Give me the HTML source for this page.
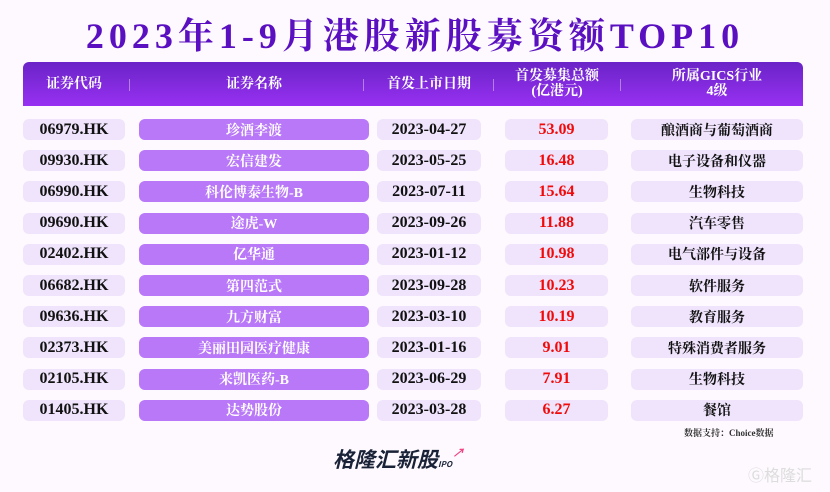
<!DOCTYPE html>
<html><head><meta charset="utf-8"><style>
body{margin:0;width:830px;height:492px;background:#fdf9fe;position:relative;overflow:hidden;font-family:"Liberation Serif","Noto Serif CJK SC",serif;}
.abs{position:absolute;}
#title{left:0;width:830px;top:13px;text-align:center;font-size:36px;font-weight:bold;color:#5a10c0;letter-spacing:5px;line-height:46px;}
#hdr{left:23px;top:62px;width:780px;height:44px;background:linear-gradient(#6a24c6,#9830f2);border-radius:6px 6px 0 0;}
.h{position:absolute;top:0;height:44px;display:flex;align-items:center;justify-content:center;text-align:center;color:#fff;font-weight:bold;font-size:14px;line-height:15px;}
.sep{position:absolute;top:17px;width:1px;height:12px;background:rgba(255,255,255,.4);}
.pill{position:absolute;height:21px;border-radius:6px;display:flex;align-items:center;justify-content:center;font-weight:bold;font-size:16px;color:#111;background:#efe4fc;}
.name{background:#b978f8;color:#fff;font-size:14px;}
.amt{color:#f00a0a;}
.ind{font-size:14px;}
</style></head><body>
<div id="title" class="abs">2023年1-9月港股新股募资额TOP10</div>
<div id="hdr" class="abs">
<div class="h" style="left:0;width:102px">证券代码</div>
<div class="sep" style="left:106px"></div>
<div class="h" style="left:116px;width:230px">证券名称</div>
<div class="sep" style="left:340px"></div>
<div class="h" style="left:354px;width:104px">首发上市日期</div>
<div class="sep" style="left:470px"></div>
<div class="h" style="left:482px;width:104px">首发募集总额<br>(亿港元)</div>
<div class="sep" style="left:597px"></div>
<div class="h" style="left:608px;width:172px">所属GICS行业<br>4级</div>
</div>
<div id="rows"></div>
<div class="abs" style="left:684px;top:426px;font-size:9px;font-weight:bold;color:#333">数据支持：Choice数据</div>
<div class="abs" style="left:333px;top:444px;font-size:21px;font-weight:bold;font-style:italic;color:#1a2238;font-family:'Noto Sans CJK SC',sans-serif">格隆汇新股<span style="font-size:8px;color:#1a2238">IPO</span><span style="color:#f04080;font-size:12px;vertical-align:top">↗</span></div>
<div class="abs" style="left:748px;top:462px;font-size:16px;color:#ddd;font-family:'Noto Sans CJK SC',sans-serif">Ⓖ格隆汇</div>
<script>
const codes=["06979.HK","09930.HK","06990.HK","09690.HK","02402.HK","06682.HK","09636.HK","02373.HK","02105.HK","01405.HK"];
const names=["珍酒李渡","宏信建发","科伦博泰生物-B","途虎-W","亿华通","第四范式","九方财富","美丽田园医疗健康","来凯医药-B","达势股份"];
const dates=["2023-04-27","2023-05-25","2023-07-11","2023-09-26","2023-01-12","2023-09-28","2023-03-10","2023-01-16","2023-06-29","2023-03-28"];
const amounts=["53.09","16.48","15.64","11.88","10.98","10.23","10.19","9.01","7.91","6.27"];
const industries=["酿酒商与葡萄酒商","电子设备和仪器","生物科技","汽车零售","电气部件与设备","软件服务","教育服务","特殊消费者服务","生物科技","餐馆"];
const rows=document.getElementById('rows');
function pill(cls,x,w,y,t){const d=document.createElement('div');d.className='pill '+cls;d.style.left=x+'px';d.style.width=w+'px';d.style.top=y+'px';d.textContent=t;rows.appendChild(d);return d;}
for(let i=0;i<codes.length;i++){
 const y=119+i*31.2;
 let e=pill('',23,102,y,codes[i]);
 
 
 e=pill('name',139,230,y,names[i]);
 
 
 e=pill('',377,104,y,dates[i]);
 
 
 e=pill('amt',505,103,y,amounts[i]);
 
 
 e=pill('ind',631,172,y,industries[i]);
 
 
}
</script>
</body></html>
